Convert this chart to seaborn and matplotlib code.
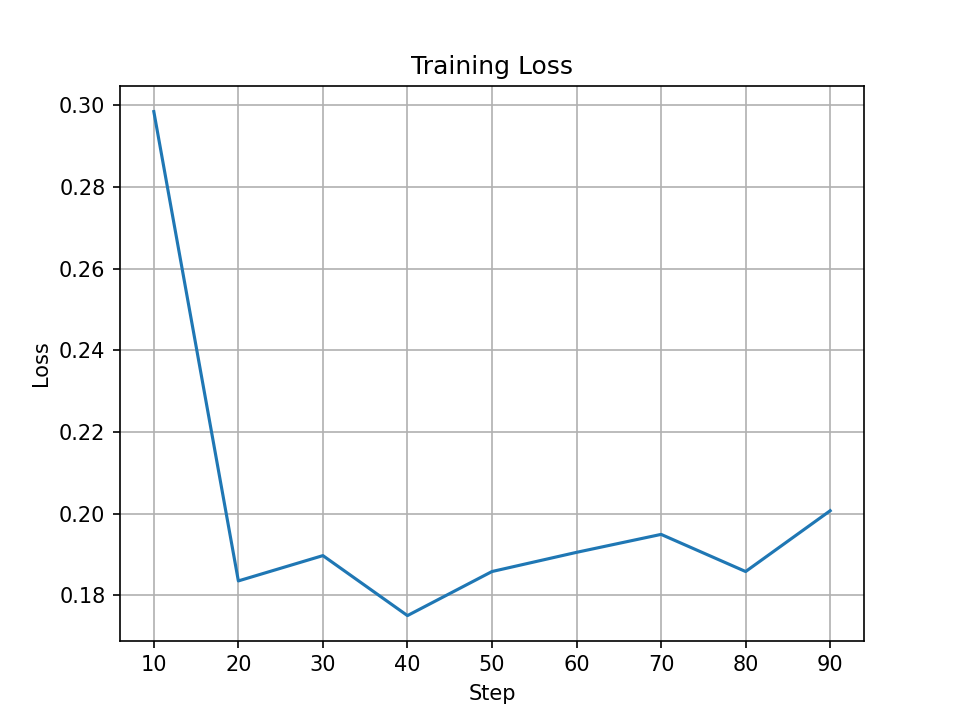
import matplotlib
matplotlib.use("Agg")
import matplotlib.pyplot as plt
import pandas as pd
import seaborn as sns

steps = [10, 20, 30, 40, 50, 60, 70, 80, 90]
loss = [0.2985, 0.1835, 0.1897, 0.1750, 0.1858, 0.1905, 0.1949, 0.1858, 0.2007]

df = pd.DataFrame({"Step": steps, "Loss": loss})

fig, ax = plt.subplots(figsize=(6.4, 4.8), dpi=150)
sns.lineplot(data=df, x="Step", y="Loss", ax=ax, color="#1f77b4")
ax.set_title("Training Loss")
ax.grid(True)
fig.savefig("out.png", dpi=150)
